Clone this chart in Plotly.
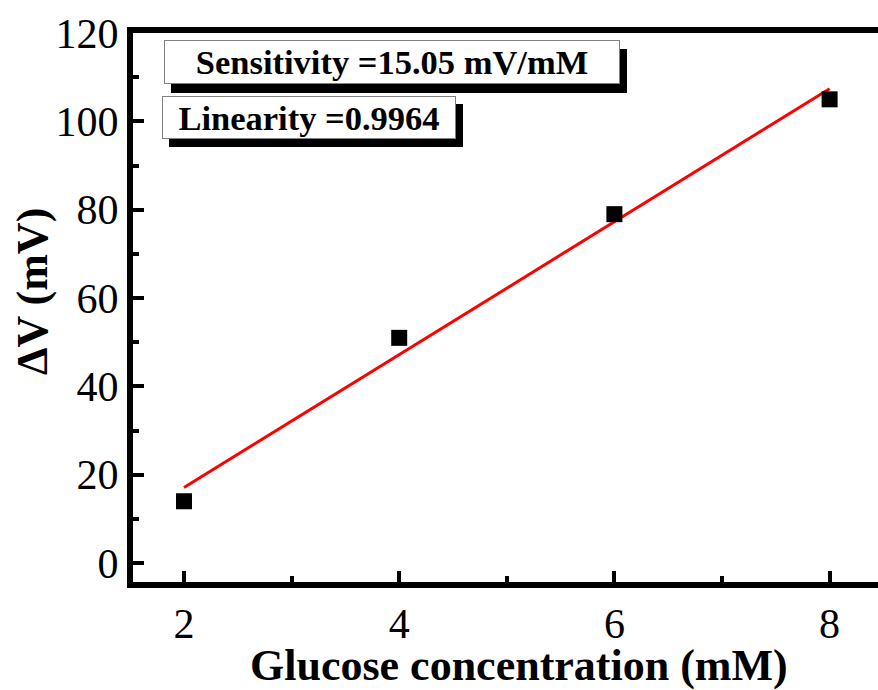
import numpy as np
import plotly.graph_objects as go

# Data
glucose_mM = [2, 4, 6, 8]
delta_V_mV = [14, 51, 79, 105]
x_ticks = [2, 4, 6, 8]
y_ticks = [0, 20, 40, 60, 80, 100, 120]
x_title = "Glucose concentration (mM)"
y_title = "ΔV (mV)"
sensitivity_label = "Sensitivity =15.05 mV/mM"
linearity_label = "Linearity =0.9964"

slope, intercept = np.polyfit(glucose_mM, delta_V_mV, 1)
fit_x = np.array([min(glucose_mM), max(glucose_mM)])
fit_y = slope * fit_x + intercept

W, H = 878, 690
ML, MR, MT, MB = 133, 0, 33, 108

fig = go.Figure()
fig.add_trace(go.Scatter(x=fit_x, y=fit_y, mode="lines",
                         line=dict(color="#ff0000", width=3), showlegend=False))
fig.add_trace(go.Scatter(x=glucose_mM, y=delta_V_mV, mode="markers",
                         marker=dict(symbol="square", size=16, color="black"),
                         showlegend=False))

font_family = "Liberation Serif, Times New Roman, serif"
px_per_x = 107.6
plot_w = W - ML - MR
plot_h = H - MT - MB
x0 = 2 - (184 - ML) / px_per_x
x1 = x0 + plot_w / px_per_x
y1 = 120.02
y0 = y1 - plot_h * 120 / (563 - MT)

fig.update_xaxes(range=[x0, x1], tickvals=x_ticks, ticks="inside", ticklen=11, tickwidth=4,
                 tickcolor="black", showline=True, linewidth=6, linecolor="black", mirror=True,
                 showgrid=False, zeroline=False,
                 minor=dict(dtick=1, ticks="inside", ticklen=6, tickwidth=4, tickcolor="black"),
                 tickfont=dict(family=font_family, size=42, color="black"))
fig.update_yaxes(range=[y0, y1], tickvals=y_ticks, ticks="inside", ticklen=11, tickwidth=4,
                 tickcolor="black", showline=True, linewidth=6, linecolor="black", mirror=False,
                 showgrid=False, zeroline=False,
                 minor=dict(dtick=10, ticks="inside", ticklen=6, tickwidth=4, tickcolor="black"),
                 tickfont=dict(family=font_family, size=42, color="black"))

def px_to_paper(px, py):
    return (px - ML) / plot_w, 1 - (py - MT) / plot_h

annotations = []
# axis titles
tx, ty = px_to_paper(519, 665)
annotations.append(dict(xref="paper", yref="paper", x=tx, y=ty, xanchor="center", yanchor="middle",
                        text=f"<b>{x_title}</b>", showarrow=False, borderpad=0,
                        font=dict(family=font_family, size=44, color="black")))
tx, ty = px_to_paper(32, 292)
annotations.append(dict(xref="paper", yref="paper", x=tx, y=ty, xanchor="center", yanchor="middle",
                        text=f"<b>{y_title}</b>", showarrow=False, textangle=-90,
                        font=dict(family=font_family, size=44, color="black")))

boxes = [
    (sensitivity_label, 391.5, 62.5, 452, 40),
    (linearity_label, 308.5, 118, 290, 39),
]
for text, cx, cy, bw, bh in boxes:
    ax_, ay_ = px_to_paper(cx, cy)
    common = dict(xref="paper", yref="paper", x=ax_, y=ay_, xanchor="center", yanchor="middle",
                  text=f"<b>{text}</b>", showarrow=False, width=bw, height=bh, align="center",
                  font=dict(family=font_family, size=34.5, color="black"))
    annotations.append(dict(common, bgcolor="black", bordercolor="black", borderwidth=1,
                            xshift=7, yshift=-8))
    annotations.append(dict(common, bgcolor="white", bordercolor="#808080", borderwidth=1))

fig.update_layout(width=W, height=H, margin=dict(l=ML, r=MR, t=MT, b=MB),
                  plot_bgcolor="white", paper_bgcolor="white", annotations=annotations)

fig.write_html("out.html")
